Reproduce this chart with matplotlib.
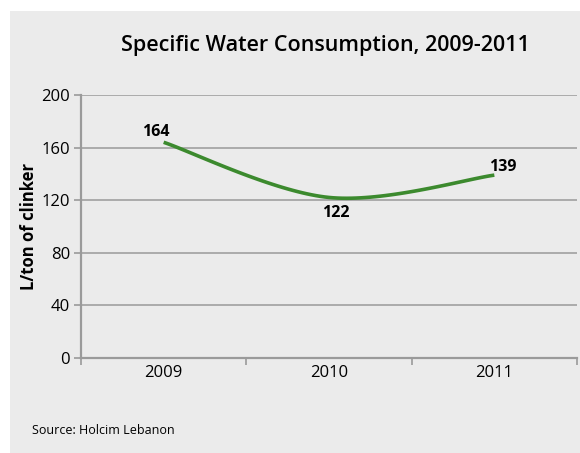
import numpy as np
import matplotlib
matplotlib.use("Agg")
import matplotlib.pyplot as plt
from matplotlib.patches import Rectangle

years = ["2009", "2010", "2011"]
values = [164, 122, 139]
yticks = [0, 40, 80, 120, 160, 200]
title = "Specific Water Consumption, 2009-2011"
ylabel = "L/ton of clinker"
source = "Source: Holcim Lebanon"

GREEN = "#3c8a2e"
GRID = "#9a9a9a"
BG = "#ebebeb"
FONT = "Open Sans"

W, H = 580, 453
fig = plt.figure(figsize=(W / 100, H / 100), dpi=100, facecolor="white")
fig.patches.append(Rectangle((10 / W, 0), (W - 10) / W, (H - 11) / H,
                             transform=fig.transFigure, facecolor=BG,
                             edgecolor="none", zorder=-10))

left, right, top, bottom = 81, 577, 95, 357.7
ax = fig.add_axes([left / W, (H - bottom) / H, (right - left) / W, (bottom - top) / H])
ax.set_facecolor("none")

x = np.arange(len(values), dtype=float)

# Excel-style smoothed line (cubic Bezier through the data points)
def smooth(xs, ys, n=40):
    px, py = [], []
    m = len(xs)
    for i in range(m - 1):
        x0, y0 = xs[max(i - 1, 0)], ys[max(i - 1, 0)]
        x1, y1 = xs[i], ys[i]
        x2, y2 = xs[i + 1], ys[i + 1]
        x3, y3 = xs[min(i + 2, m - 1)], ys[min(i + 2, m - 1)]
        c1x, c1y = x1 + (x2 - x0) / 6, y1 + (y2 - y0) / 6
        c2x, c2y = x2 - (x3 - x1) / 6, y2 - (y3 - y1) / 6
        t = np.linspace(0, 1, n)
        bx = (1 - t) ** 3 * x1 + 3 * (1 - t) ** 2 * t * c1x + 3 * (1 - t) * t ** 2 * c2x + t ** 3 * x2
        by = (1 - t) ** 3 * y1 + 3 * (1 - t) ** 2 * t * c1y + 3 * (1 - t) * t ** 2 * c2y + t ** 3 * y2
        px.extend(bx); py.extend(by)
    return np.array(px), np.array(py)

sx, sy = smooth(list(x), values)
ax.plot(sx, sy, color=GREEN, lw=2.6, solid_capstyle="butt", zorder=3)

ax.set_xlim(-0.5, len(values) - 0.5)
ax.set_ylim(0, 200)
ax.set_yticks(yticks)
ax.set_yticklabels([str(v) for v in yticks], fontsize=12, family=FONT)
ax.set_xticks(x)
ax.set_xticklabels(years, fontsize=12, family=FONT)
ax.set_xticks(np.arange(len(values) + 1) - 0.5, minor=True)
ax.tick_params(axis="x", which="major", length=0, pad=5)
ax.tick_params(axis="x", which="minor", length=5, color=GRID, width=1.2, direction="out")
ax.tick_params(axis="y", length=5, color=GRID, width=1.2, pad=3)

for v in yticks[1:]:
    ax.axhline(v, color=GRID, lw=1.1, zorder=1)
for s in ["top", "right"]:
    ax.spines[s].set_visible(False)
for s in ["left", "bottom"]:
    ax.spines[s].set_color(GRID)
    ax.spines[s].set_linewidth(1.6)

offsets = [(-8, 10), (7, -16), (8, 8)]
for xi, v, (dx, dy) in zip(x, values, offsets):
    ax.annotate(str(v), (xi, v), xytext=(dx, dy), textcoords="offset pixels",
                ha="center", va="center", fontsize=11.5, fontweight="bold", family=FONT)

ax.set_ylabel(ylabel, fontsize=12, fontweight="bold", family=FONT, labelpad=2)

fig.text(325 / W, 1 - 46 / H, title, ha="center", va="center", fontsize=15.5,
         fontweight="semibold", family=FONT)
fig.text(32 / W, 1 - 430 / H, source, ha="left", va="center", fontsize=9, family=FONT)

fig.savefig("out.png", dpi=100, facecolor="white")
